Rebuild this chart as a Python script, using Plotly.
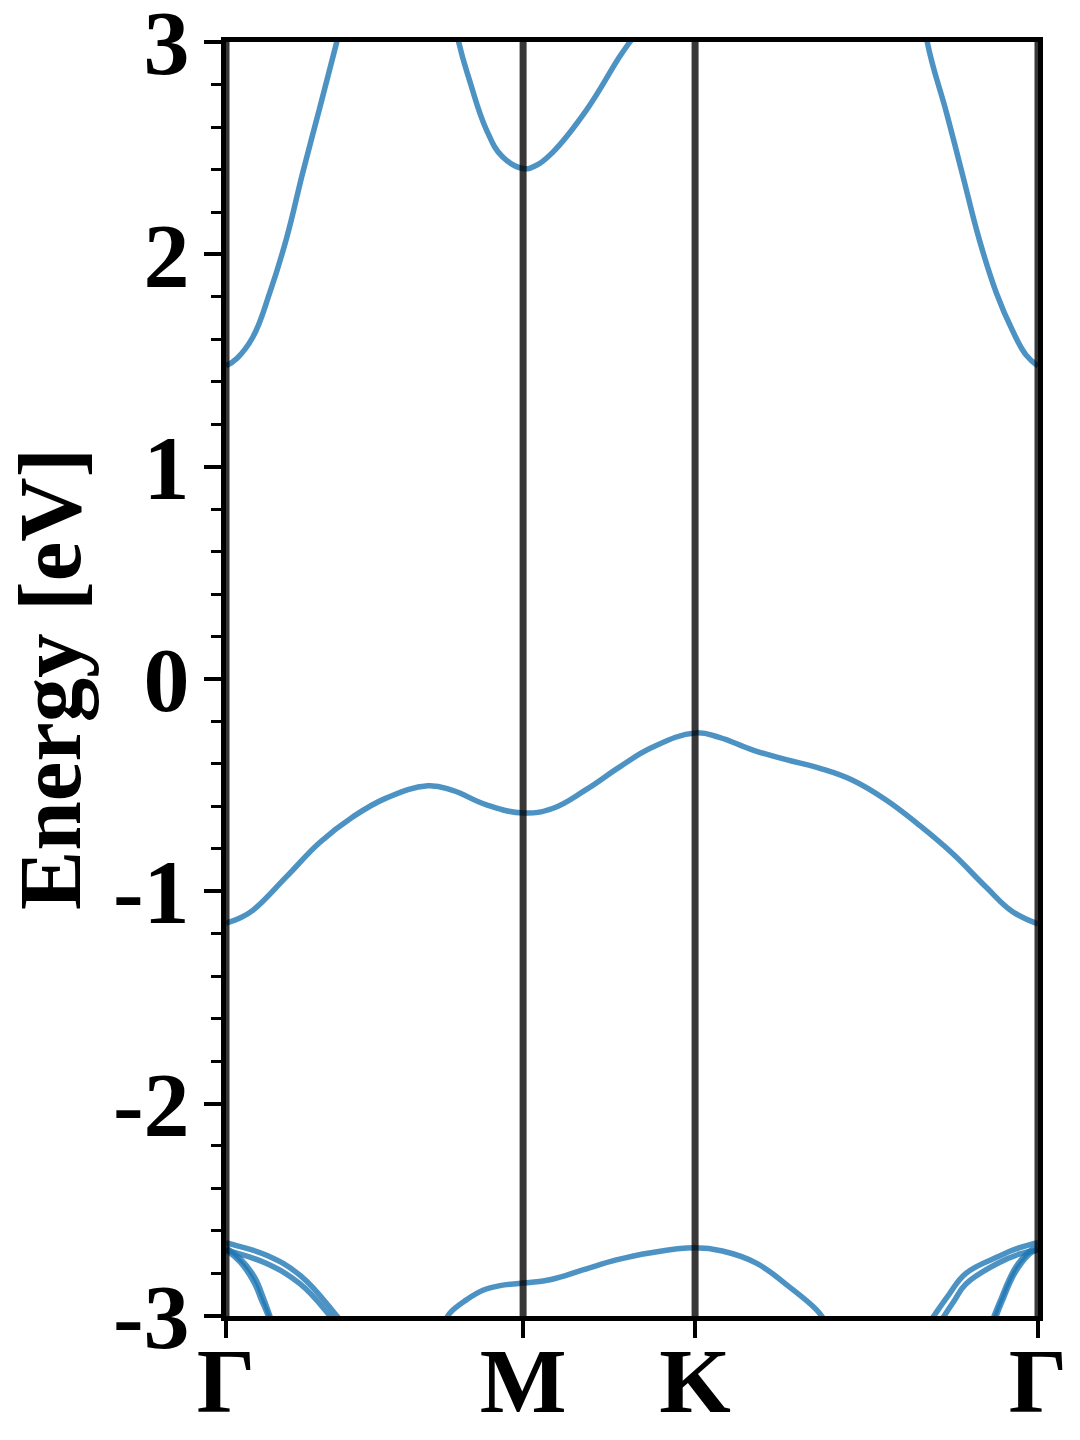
import plotly.graph_objects as go

# High-symmetry path (k-path distance) and labels
kpath = [0.0, 0.577, 0.911, 1.577]
klabels = ["Γ", "M", "K", "Γ"]
y_title = "Energy [eV]"

# Valence band (top)
vb_k = [0.000, 0.026, 0.052, 0.118, 0.182, 0.246, 0.312, 0.392, 0.440, 0.506, 0.577,
        0.634, 0.700, 0.764, 0.828, 0.911, 0.958, 1.022, 1.088, 1.152, 1.216,
        1.282, 1.346, 1.410, 1.476, 1.527, 1.577]
vb_E = [-1.150, -1.127, -1.090, -0.930, -0.770, -0.650, -0.560, -0.503, -0.525, -0.593, -0.631,
        -0.610, -0.520, -0.415, -0.322, -0.254, -0.275, -0.334, -0.380, -0.420, -0.476,
        -0.570, -0.688, -0.820, -0.980, -1.095, -1.154]

# Conduction band, three visible segments
cb1_k = [0.000, 0.021, 0.052, 0.085, 0.118, 0.149, 0.182, 0.215, 0.248]
cb1_E = [1.475, 1.510, 1.610, 1.820, 2.080, 2.385, 2.690, 3.000, 3.310]
cb2_k = [0.430, 0.452, 0.473, 0.506, 0.537, 0.577, 0.603, 0.634, 0.700, 0.764, 0.784, 0.820]
cb2_E = [3.300, 3.000, 2.820, 2.586, 2.460, 2.405, 2.420, 2.480, 2.680, 2.930, 3.000, 3.120]
cb3_k = [1.345, 1.362, 1.399, 1.430, 1.463, 1.496, 1.527, 1.554, 1.577]
cb3_E = [3.320, 3.000, 2.670, 2.380, 2.070, 1.820, 1.644, 1.526, 1.475]

# Lower band around M-K
lb_k = [0.425, 0.435, 0.467, 0.499, 0.532, 0.577, 0.629, 0.693, 0.758, 0.822, 0.911, 0.964,
        1.030, 1.094, 1.146, 1.162]
lb_E = [-3.030, -2.987, -2.925, -2.880, -2.858, -2.846, -2.830, -2.784, -2.737, -2.704, -2.680, -2.695,
        -2.752, -2.864, -2.970, -3.020]

# Bands near left Gamma
gl_up_k = [0.000, 0.014, 0.080, 0.144, 0.215, 0.235]
gl_up_E = [-2.655, -2.665, -2.716, -2.810, -3.000, -3.060]
gl_lo_k = [0.000, 0.014, 0.080, 0.144, 0.202, 0.222]
gl_lo_E = [-2.690, -2.700, -2.755, -2.850, -3.000, -3.060]
gl_st1_k = [0.000, 0.027, 0.056, 0.070, 0.085, 0.095]
gl_st1_E = [-2.680, -2.730, -2.820, -2.900, -3.000, -3.070]
gl_st2_k = [0.000, 0.027, 0.054, 0.068, 0.082, 0.092]
gl_st2_E = [-2.690, -2.745, -2.840, -2.920, -3.000, -3.070]

# Bands near right Gamma
gr_up_k = [1.355, 1.375, 1.404, 1.437, 1.501, 1.540, 1.577]
gr_up_E = [-3.070, -3.000, -2.900, -2.800, -2.720, -2.680, -2.655]
gr_lo_k = [1.375, 1.395, 1.414, 1.437, 1.501, 1.540, 1.577]
gr_lo_E = [-3.070, -3.000, -2.930, -2.850, -2.750, -2.710, -2.690]
gr_st1_k = [1.482, 1.492, 1.507, 1.521, 1.534, 1.550, 1.564, 1.577]
gr_st1_E = [-3.070, -3.000, -2.910, -2.830, -2.770, -2.720, -2.690, -2.680]
gr_st2_k = [1.486, 1.496, 1.511, 1.525, 1.538, 1.552, 1.565, 1.577]
gr_st2_E = [-3.070, -3.000, -2.910, -2.830, -2.775, -2.730, -2.700, -2.690]

y_range = [-3.001, 3.001]
y_ticks = [-3, -2, -1, 0, 1, 2, 3]

band_color = "rgba(31,119,180,0.8)"
line_color = "rgba(0,0,0,0.78)"
font_family = "Liberation Serif"

fig = go.Figure()

bands = [
    (vb_k, vb_E), (cb1_k, cb1_E), (cb2_k, cb2_E), (cb3_k, cb3_E), (lb_k, lb_E),
    (gl_up_k, gl_up_E), (gl_lo_k, gl_lo_E), (gl_st1_k, gl_st1_E), (gl_st2_k, gl_st2_E),
    (gr_up_k, gr_up_E), (gr_lo_k, gr_lo_E), (gr_st1_k, gr_st1_E), (gr_st2_k, gr_st2_E),
]
for kk, ee in bands:
    fig.add_trace(go.Scatter(x=kk, y=ee, mode="lines",
                             line=dict(color=band_color, width=5.5, shape="spline", smoothing=1.2),
                             hoverinfo="skip", showlegend=False))

# Vertical lines at high-symmetry points
for kp in kpath:
    fig.add_trace(go.Scatter(x=[kp, kp], y=y_range, mode="lines",
                             line=dict(color=line_color, width=7),
                             hoverinfo="skip", showlegend=False))

fig.update_layout(
    width=1080, height=1440,
    margin=dict(l=218, r=50, t=34, b=132),
    paper_bgcolor="white", plot_bgcolor="white",
    font=dict(family=font_family, color="black"),
)

fig.add_annotation(
    text=y_title, textangle=-90, showarrow=False,
    xref="paper", yref="paper", x=0, y=0.5, xanchor="center", yanchor="middle",
    xshift=-176,
    font=dict(family=font_family, size=89, color="black", weight="bold"),
)

fig.update_xaxes(
    range=[kpath[0], kpath[-1]],
    tickmode="array", tickvals=kpath, ticktext=klabels,
    tickfont=dict(family=font_family, size=92, color="black", weight="bold"),
    ticks="outside", ticklen=17, tickwidth=4, tickcolor="black",
    ticklabelstandoff=-36, ticklabeloverflow="allow",
    showline=True, linewidth=5, linecolor="black", mirror=True,
    showgrid=False, zeroline=False, automargin=False,
)

fig.update_yaxes(
    range=y_range,
    tickmode="array", tickvals=y_ticks, ticktext=[str(t) for t in y_ticks],
    tickfont=dict(family=font_family, size=92, color="black", weight="bold"),
    ticks="outside", ticklen=17, tickwidth=4, tickcolor="black",
    ticklabelstandoff=-4, ticklabeloverflow="allow",
    minor=dict(dtick=0.2, tick0=0, ticks="outside", ticklen=10, tickwidth=3, tickcolor="black", showgrid=False),
    showline=True, linewidth=5, linecolor="black", mirror=True,
    showgrid=False, zeroline=False, automargin=False,
)

fig.write_html("out.html")
